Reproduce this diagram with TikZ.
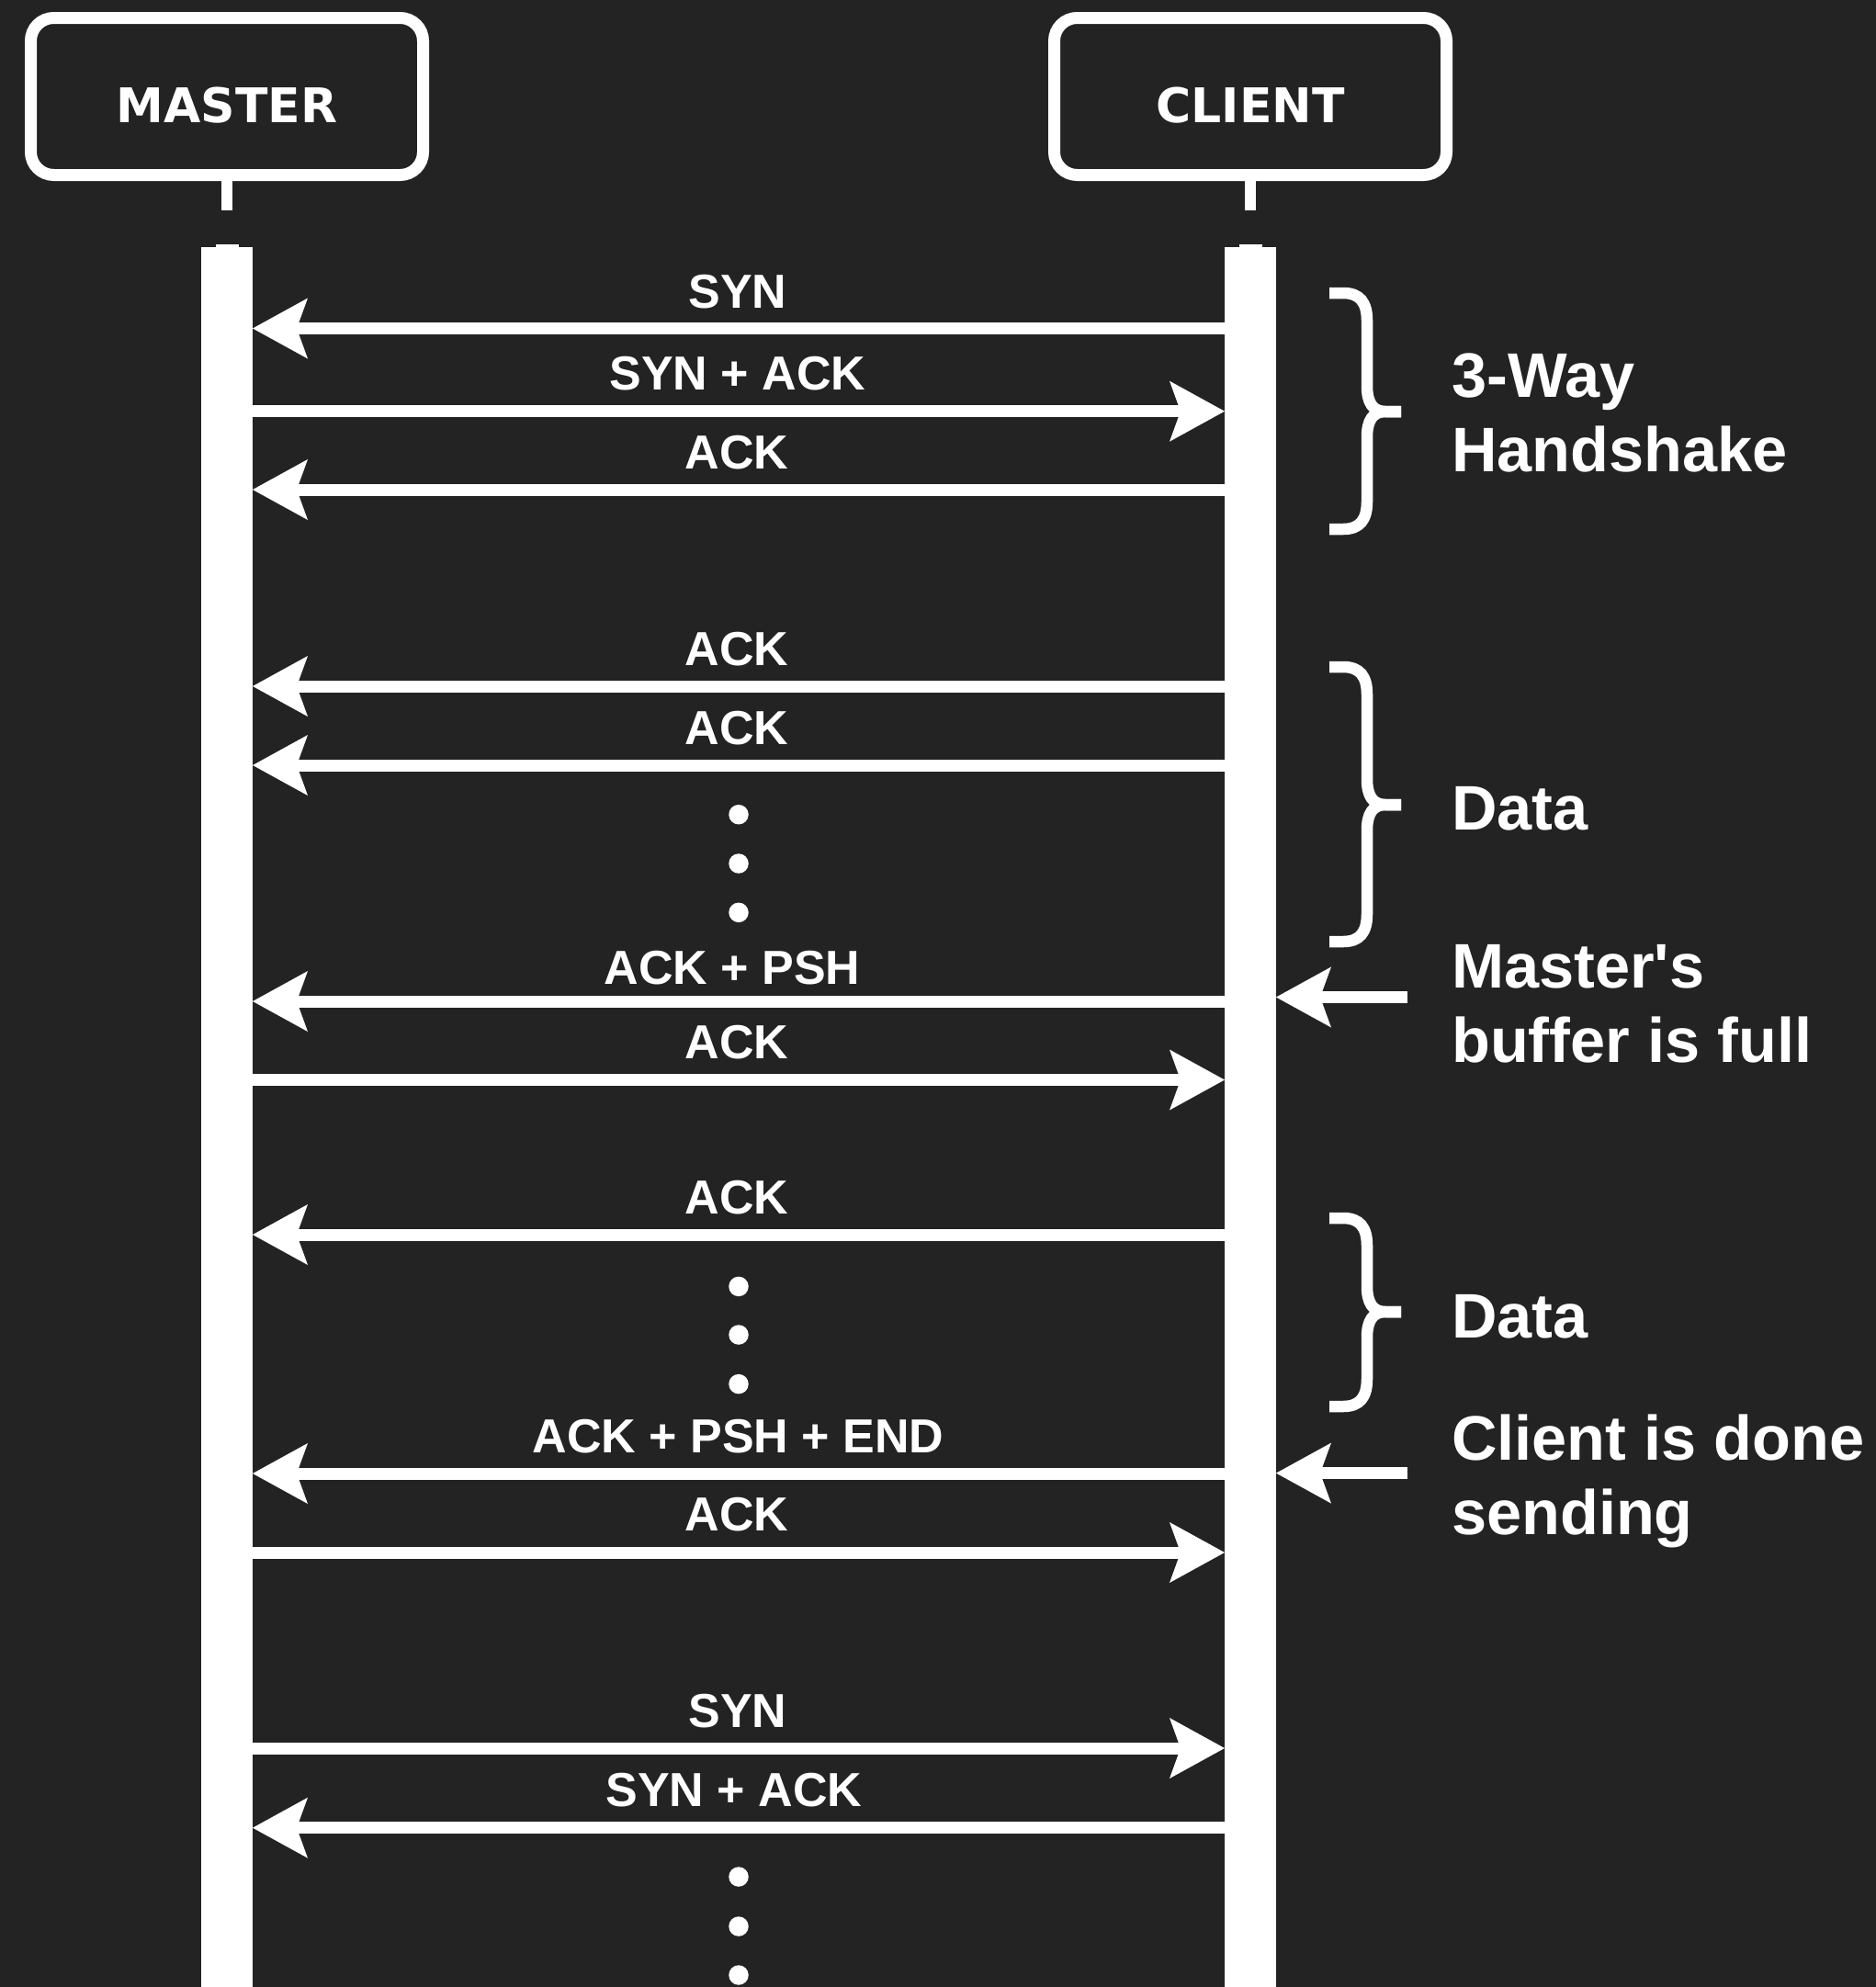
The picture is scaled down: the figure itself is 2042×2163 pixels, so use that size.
\documentclass[tikz,border=0pt]{standalone}
\usepackage{fontspec}
\usetikzlibrary{arrows.meta}
\newfontfamily\labfont{Liberation Sans}
\newfontfamily\actfont{DejaVu Sans}
\definecolor{bg}{RGB}{35,35,35}
% curly brace on the right of the client lifeline: top, middle, bottom
\newcommand\sidebrace[3]{%
  \draw[brace] (1447,#1) -- (1462,#1) .. controls (1480,#1) and (1488,#1+10) .. (1488,#1+30)
    -- (1488,#2-28) .. controls (1488,#2-10) and (1494,#2) .. (1508,#2) -- (1525,#2);
  \draw[brace] (1447,#3) -- (1462,#3) .. controls (1480,#3) and (1488,#3-10) .. (1488,#3-30)
    -- (1488,#2+28) .. controls (1488,#2+10) and (1494,#2) .. (1508,#2) -- (1525,#2);
}
\begin{document}
\begin{tikzpicture}[x=1pt,y=-1pt,
  actor/.style={draw=white, line width=13pt, rounded corners=25pt,
    minimum width=427pt, minimum height=171pt, inner sep=0pt, text=white,
    font=\actfont\bfseries\fontsize{52}{62}\selectfont, text height=56pt, text depth=0pt},
  stub/.style={draw=white, line width=12.5pt},
  lifeline/.style={fill=white, minimum width=56pt, minimum height=1910pt,
    inner sep=0pt, outer sep=0pt, anchor=north},
  msg/.style={draw=white, line width=13pt,
    -{Stealth[length=60pt, width=66pt, inset=12pt, line width=0pt]}},
  lbl/.style={text=white, font=\labfont\bfseries\fontsize{52}{62}\selectfont,
    anchor=base, inner sep=0pt},
  note/.style={text=white, font=\labfont\bfseries\fontsize{68.5}{81.5}\selectfont,
    anchor=base west, inner sep=0pt, align=left},
  dot/.style={circle, fill=white, minimum size=21.5pt, inner sep=0pt},
  brace/.style={draw=white, line width=12.5pt},
]
\useasboundingbox (0,0) rectangle (2042,2163);
\clip (0,0) rectangle (2042,2163);
\fill[bg] (0,0) rectangle (2042,2163);

% participants
\node[actor] (master) at (247,105) {MASTER};
\node[actor] (client) at (1361,105) {CLIENT};
\draw[stub] (master.south) -- ++(0,32);
\draw[stub] (client.south) -- ++(0,32);

% lifelines
\node[lifeline] (mline) at (247,269) {};
\node[lifeline] (cline) at (1361,269) {};
\fill[white] ([xshift=-12.5pt]mline.north) rectangle ([xshift=12.5pt,yshift=3pt]mline.north);
\fill[white] ([xshift=-12.5pt]cline.north) rectangle ([xshift=12.5pt,yshift=3pt]cline.north);

% handshake
\draw[msg] (cline.west |- 0,357.5) -- (mline.east |- 0,357.5);
\node[lbl] (l1) at (803,335) {SYN};
\draw[msg] (mline.east |- 0,447.7) -- (cline.west |- 0,447.7);
\node[lbl] (l2) at (803,424) {SYN + ACK};
\draw[msg] (cline.west |- 0,533) -- (mline.east |- 0,533);
\node[lbl] (l3) at (802,510) {ACK};

% data transfer
\draw[msg] (cline.west |- 0,747) -- (mline.east |- 0,747);
\node[lbl] (l4) at (802,724) {ACK};
\draw[msg] (cline.west |- 0,833) -- (mline.east |- 0,833);
\node[lbl] (l5) at (802,810) {ACK};
\node[dot] (d1) at (804,886.7) {};
\node[dot] (d2) at (804,940) {};
\node[dot] (d3) at (804,993.3) {};
\draw[msg] (cline.west |- 0,1090) -- (mline.east |- 0,1090);
\node[lbl] (l6) at (797,1071) {ACK + PSH};
\draw[msg] (mline.east |- 0,1175.5) -- (cline.west |- 0,1175.5);
\node[lbl] (l7) at (802,1152.7) {ACK};

\draw[msg] (cline.west |- 0,1344) -- (mline.east |- 0,1344);
\node[lbl] (l8) at (802,1321) {ACK};
\node[dot] (d4) at (804,1400.4) {};
\node[dot] (d5) at (804,1453) {};
\node[dot] (d6) at (804,1506.6) {};
\draw[msg] (cline.west |- 0,1604) -- (mline.east |- 0,1604);
\node[lbl] (l9) at (803.5,1581) {ACK + PSH + END};
\draw[msg] (mline.east |- 0,1690) -- (cline.west |- 0,1690);
\node[lbl] (l10) at (802,1666.7) {ACK};

% new connection
\draw[msg] (mline.east |- 0,1903) -- (cline.west |- 0,1903);
\node[lbl] (l11) at (803,1880.5) {SYN};
\draw[msg] (cline.west |- 0,1989.7) -- (mline.east |- 0,1989.7);
\node[lbl] (l12) at (799,1966) {SYN + ACK};
\node[dot] (d7) at (804,2043) {};
\node[dot] (d8) at (804,2097) {};
\node[dot] (d9) at (804,2150) {};

% annotations (multi-line notes are placed by the baseline of their last line)
\sidebrace{319}{448}{576}
\node[note] (n1) at (1580,513.5) {3-Way\\Handshake};
\sidebrace{726}{876}{1025}
\node[note] (n2) at (1580,903) {Data};
\coordinate (fullnote) at (1532,1085.5);
\draw[msg] (fullnote) -- (cline.east |- fullnote);
\node[note] (n3) at (1580,1156.5) {Master's\\buffer is full};
\sidebrace{1326}{1428}{1531}
\node[note] (n4) at (1580,1456) {Data};
\coordinate (donenote) at (1532,1603.6);
\draw[msg] (donenote) -- (cline.east |- donenote);
\node[note] (n5) at (1580,1670.5) {Client is done\\sending};
\end{tikzpicture}
\end{document}
